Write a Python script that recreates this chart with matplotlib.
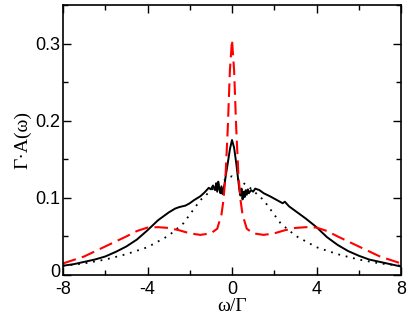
import numpy as np
import matplotlib.pyplot as plt
from matplotlib.ticker import MultipleLocator
from matplotlib.transforms import ScaledTranslation

# solid black curve
w_solid = [-8, -7.5, -7, -6.5, -6, -5.5, -5, -4.5, -4, -3.5, -3, -2.7, -2.5, -2.2, -2, -1.8,
           -1.5, -1.3, -1.1, -1.0, -0.9, -0.8, -0.75, -0.7, -0.65, -0.6, -0.55, -0.5, -0.45,
           -0.4, -0.35, -0.3, -0.2, -0.1, 0, 0.1, 0.2, 0.3, 0.35, 0.4, 0.45, 0.5, 0.55, 0.6,
           0.65, 0.7, 0.75, 0.8, 0.9, 1.0, 1.1, 1.3, 1.5, 1.8, 2.0, 2.2, 2.4, 2.5, 2.7, 3.0,
           3.5, 4, 4.5, 5, 5.5, 6, 6.5, 7, 7.5, 8]
a_solid = [0.012, 0.014, 0.017, 0.020, 0.024, 0.030, 0.037, 0.046, 0.058, 0.071, 0.081, 0.086,
           0.088, 0.090, 0.093, 0.097, 0.102, 0.107, 0.113, 0.111, 0.116, 0.110, 0.119, 0.108,
           0.121, 0.112, 0.106, 0.115, 0.105, 0.112, 0.118, 0.128, 0.145, 0.163, 0.175, 0.165,
           0.145, 0.122, 0.110, 0.103, 0.112, 0.098, 0.108, 0.101, 0.110, 0.104, 0.111, 0.106,
           0.110, 0.108, 0.112, 0.110, 0.106, 0.102, 0.099, 0.096, 0.093, 0.095, 0.089, 0.083,
           0.073, 0.062, 0.049, 0.039, 0.031, 0.025, 0.020, 0.017, 0.014, 0.011]

# dotted black curve
w_dot = [-8, -7, -6, -5, -4, -3, -2.3, -1.5, -0.85, -0.2, 0, 0.2, 0.85, 1.5, 2.3, 3, 4, 5, 6, 7, 8]
a_dot = [0.012, 0.015, 0.020, 0.027, 0.036, 0.051, 0.067, 0.097, 0.113, 0.126, 0.128,
         0.126, 0.113, 0.097, 0.067, 0.051, 0.036, 0.027, 0.020, 0.015, 0.012]

# red dashed curve
w_red = [-8, -7, -6, -5, -4.5, -4, -3.5, -3, -2.5, -2, -1.5, -1, -0.7, -0.5, -0.4, -0.3, -0.2,
         -0.1, 0, 0.1, 0.2, 0.3, 0.4, 0.5, 0.7, 1, 1.5, 2, 2.5, 3, 3.5, 4, 4.5, 5, 6, 7, 8]
a_red = [0.015, 0.024, 0.037, 0.050, 0.057, 0.0615, 0.062, 0.061, 0.058, 0.054, 0.052, 0.054,
         0.060, 0.078, 0.098, 0.132, 0.190, 0.265, 0.305, 0.265, 0.190, 0.132, 0.098, 0.078,
         0.060, 0.054, 0.052, 0.054, 0.058, 0.061, 0.062, 0.0615, 0.057, 0.050, 0.037, 0.024,
         0.015]

fig = plt.figure(figsize=(4.07, 3.15), dpi=100)
ax = fig.add_axes([63/407, 40/315, 338/407, 270/315])

ax.plot(w_dot, a_dot, color='black', ls=(0, (1, 3.2)), lw=1.3)
ax.plot(w_solid, a_solid, color='black', lw=1.4)
ax.plot(w_red, a_red, color='red', ls=(0, (6.5, 3)), lw=1.5)

ax.set_xlim(-8, 8)
ax.set_ylim(0, 0.35)
ax.xaxis.set_minor_locator(MultipleLocator(2))
ax.yaxis.set_minor_locator(MultipleLocator(0.05))
ax.set_xticks([-8, -4, 0, 4, 8])
ax.set_xticklabels(['-8', '-4', '0', '4', '8'])
ax.set_yticks([0, 0.1, 0.2, 0.3])
ax.set_yticklabels(['0', '0.1', '0.2', '0.3'])
ax.tick_params(which='both', direction='in', top=True, right=True, width=1.0,
               labelsize=13)
ax.tick_params(axis='x', pad=4)
ax.tick_params(axis='y', pad=2)
ax.tick_params(which='major', length=6)
ax.tick_params(which='minor', length=3.5)
for lab in ax.get_xticklabels() + ax.get_yticklabels():
    lab.set_family('Liberation Sans')
# nudge the "0" on the y axis up a little so it clears the "-8"
zero = ax.get_yticklabels()[0]
zero.set_transform(zero.get_transform() + ScaledTranslation(0, 3/72, fig.dpi_scale_trans))
for s in ax.spines.values():
    s.set_linewidth(1.2)

ax.set_xlabel('ω/Γ', family='Liberation Serif', fontsize=14, labelpad=0.5)
ax.set_ylabel('Γ·A(ω)', family='Liberation Serif', fontsize=14, labelpad=3)

fig.savefig('out.png', dpi=100)
